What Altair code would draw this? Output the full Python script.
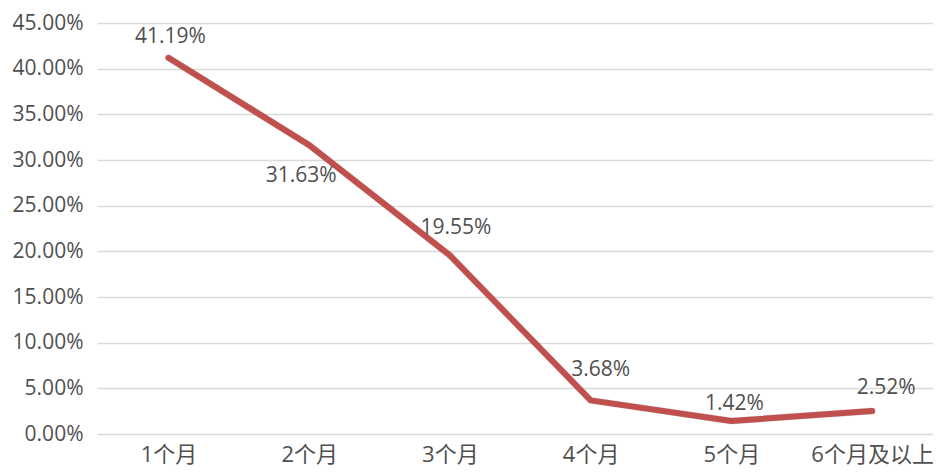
import altair as alt
import pandas as pd

categories = ["1个月", "2个月", "3个月", "4个月", "5个月", "6个月及以上"]
values = [41.19, 31.63, 19.55, 3.68, 1.42, 2.52]
labels = ["41.19%", "31.63%", "19.55%", "3.68%", "1.42%", "2.52%"]
y_ticks = [0, 5, 10, 15, 20, 25, 30, 35, 40, 45]

# label placement offsets (style only, not data)
label_dx = [2, -8, 6, 10, 3, 14]
label_dy = [-21, 31, -27, -30, -17, -23]

df = pd.DataFrame({"cat": categories, "val": values, "lab": labels})

FONT = "Open Sans, Noto Sans CJK SC, sans-serif"
GRAY = "#505050"

x = alt.X("cat:N", sort=categories,
          scale=alt.Scale(type="point", padding=0.47, align=0.54),
          axis=alt.Axis(title=None, labelAngle=0, domain=False, ticks=False,
                        labelPadding=10, labelFontSize=22, labelColor=GRAY,
                        labelFont=FONT, grid=False))
y = alt.Y("val:Q", scale=alt.Scale(domain=[0, 45], nice=False),
          axis=alt.Axis(title=None, values=y_ticks, domain=False, ticks=False,
                        labelExpr="format(datum.value/100, '.2%')",
                        labelPadding=14, labelFontSize=21, labelColor=GRAY,
                        labelFont=FONT, gridColor="#D9D9D9", gridWidth=1.5))

base = alt.Chart(df)

shadow = base.mark_line(color="#000000", opacity=0.12, strokeWidth=7,
                        strokeCap="round", strokeJoin="round", dy=2, dx=1).encode(
    x=x, y=y)
line = base.mark_line(color="#C0504D", strokeWidth=6, strokeCap="round",
                      strokeJoin="round").encode(x=x, y=y)

text_layers = []
for i, c in enumerate(categories):
    t = base.transform_filter(alt.datum.cat == c).mark_text(
        fontSize=21, font=FONT, color=GRAY, dx=label_dx[i], dy=label_dy[i]
    ).encode(x=x, y=y, text="lab:N")
    text_layers.append(t)

chart = alt.layer(shadow, line, *text_layers).properties(
    width=836, height=411,
    background="#FFFFFF",
    autosize=alt.AutoSizeParams(type="none"),
    padding={"left": 89, "top": 15, "right": 0, "bottom": 33},
).configure_view(stroke=None)

chart.save("out.html", embed_options={"renderer": "svg", "actions": False})
